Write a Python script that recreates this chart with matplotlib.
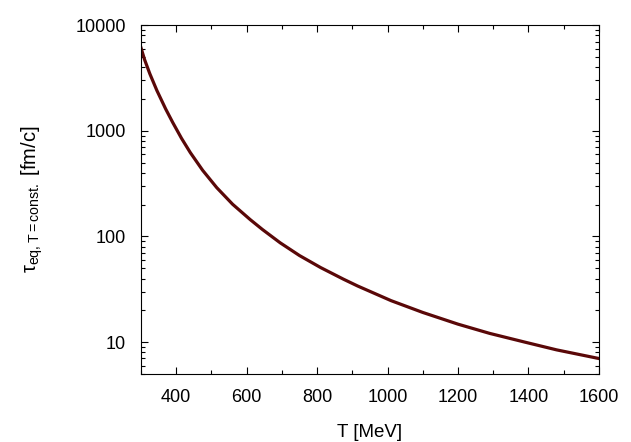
import numpy as np
import matplotlib
matplotlib.use('Agg')
import matplotlib.pyplot as plt
from matplotlib.ticker import LogLocator, MultipleLocator, NullFormatter, FixedLocator

plt.rcParams['font.family'] = ['Liberation Sans', 'DejaVu Sans']
plt.rcParams['mathtext.fontset'] = 'custom'
plt.rcParams['mathtext.rm'] = 'Liberation Sans'
plt.rcParams['mathtext.it'] = 'Liberation Sans:italic'

# temperature [MeV] and equilibration time [fm/c]
T = [300, 310, 325, 345, 370, 390, 415, 440, 475, 515, 560, 610, 645, 695,
     750, 810, 875, 915, 1010, 1100, 1200, 1290, 1390, 1480, 1600]
tau = [6095, 4730, 3470, 2410, 1610, 1200, 849, 622, 423, 290, 202, 144.5, 116.3, 87.2,
       66.0, 50.8, 39.4, 34.0, 24.7, 19.1, 14.8, 12.1, 10.0, 8.45, 7.0]

fig = plt.figure(figsize=(6.31, 4.42), dpi=100)
ax = fig.add_axes([0.2235, 0.154, 0.7255, 0.789])

ax.plot(T, tau, color='#5a0808', lw=2.3, solid_joinstyle='round')

ax.set_yscale('log')
ax.set_xlim(300, 1600)
ax.set_ylim(5, 10000)

ax.xaxis.set_major_locator(FixedLocator([400, 600, 800, 1000, 1200, 1400, 1600]))
ax.xaxis.set_minor_locator(MultipleLocator(100))
ax.yaxis.set_major_locator(FixedLocator([10, 100, 1000, 10000]))
ax.yaxis.set_minor_locator(LogLocator(base=10, subs=np.arange(2, 10)))
ax.yaxis.set_minor_formatter(NullFormatter())
ax.set_yticklabels(['10', '100', '1000', '10000'])

ax.tick_params(which='both', direction='in', top=True, right=True, labelsize=13)
ax.tick_params(which='major', length=5, width=0.8)
ax.tick_params(which='minor', length=3, width=0.8)
ax.tick_params(axis='x', pad=11)
ax.tick_params(axis='y', pad=11)

ax.set_xlabel('T [MeV]', fontsize=13.5, labelpad=13)
ax.set_ylabel(r'$\mathrm{\tau}_{\mathrm{eq,T=const.}}$ [fm/c]', fontsize=14.5, labelpad=22)

fig.savefig('out.png', dpi=100)
